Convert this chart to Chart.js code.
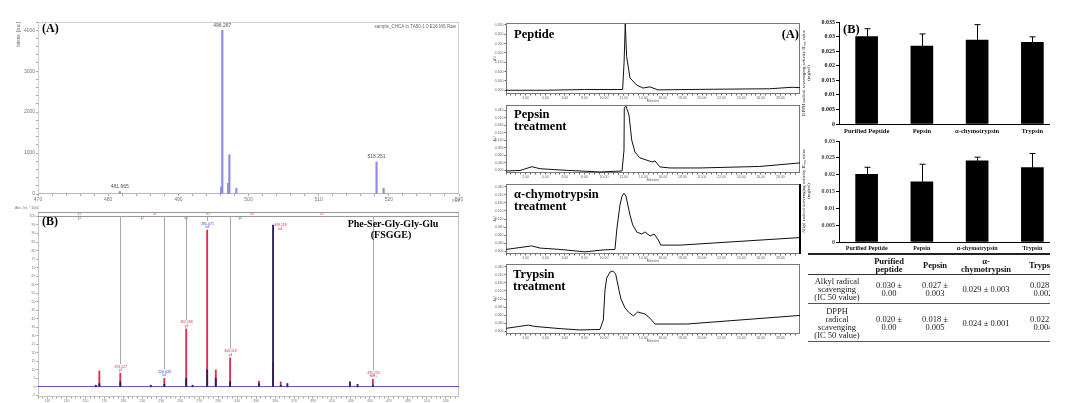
<!DOCTYPE html>
<html>
<head>
<meta charset="utf-8">
<script src="https://cdn.jsdelivr.net/npm/chart.js@4.4.1/dist/chart.umd.min.js"></script>
<style>
  html, body { margin: 0; padding: 0; background: #fff; }
  body { width: 1087px; height: 403px; position: relative; overflow: hidden; }
  canvas { position: absolute; }
  #right { position: absolute; left: 800px; top: 0; width: 250px; height: 403px; overflow: hidden; }
  #tbl { position: absolute; left: 8px; top: 253px; border-collapse: collapse; table-layout: fixed; width: 264px;
         font-family: "Liberation Serif", "Times New Roman", serif; font-size: 8.5px; line-height: 8px; color: #222; }
  #tbl td, #tbl th { padding: 0; text-align: center; vertical-align: middle; }
  #tbl th { font-weight: bold; color: #111; }
  #tbl tr.head th { border-top: 2px solid #222; border-bottom: 1px solid #333; height: 19px; }
  #tbl tr.r1 td { border-bottom: 1px solid #555; height: 28px; }
  #tbl tr.r2 td { border-bottom: 1px solid #555; height: 37px; }
  #thick { position: absolute; left: 799px; top: 184px; width: 2px; height: 70px; background: #000; }
</style>
</head>
<body>
<canvas id="ms1" width="470" height="210" style="left:0;top:0"></canvas>
<canvas id="ms2" width="470" height="203" style="left:0;top:200px"></canvas>
<canvas id="hp1" width="330" height="86" style="left:470px;top:18px"></canvas>
<canvas id="hp2" width="330" height="79" style="left:470px;top:104px"></canvas>
<canvas id="hp3" width="330" height="82" style="left:470px;top:182px"></canvas>
<canvas id="hp4" width="330" height="82" style="left:470px;top:262px"></canvas>
<div id="thick"></div>
<div id="right">
  <canvas id="bar1" width="287" height="130" style="left:0;top:10px"></canvas>
  <canvas id="bar2" width="287" height="118" style="left:0;top:135px"></canvas>
  <table id="tbl"></table>
</div>
<script>
// ---------- data ----------
// MALDI MS spectrum (A)
const ms1Mz  = [481.665, 496.1, 496.267, 497.1, 497.27, 498.27, 518.251, 519.25];
const ms1Int = [60, 170, 4000, 260, 960, 140, 780, 140];
const ms1LabelMz = [481.665, 496.267, 518.251];

// MS/MS spectrum (B)
const msmsMz   = [161, 164.7, 186.8, 219, 233.2, 256.3, 263, 278.4, 287.5, 302.6, 333, 347.9, 356, 363, 429, 437, 453.2];
const msmsRed  = [0, 9.4, 8, 0, 5, 34, 0, 92, 10, 17, 3.5, 14, 3, 0, 0, 0, 4.5];
const msmsDark = [1, 2, 3, 1, 1.5, 5, 1, 10, 5, 3, 2, 95, 1, 2, 3, 1.5, 1];
const fragMz   = [186.8, 233.2, 256.3, 278.4, 302.6, 347.9, 453.2];
const fragText = ['193.127', '220.039', '262.096', '285.071', '306.118', '349.118', '495.231'];
const fragIon  = ['y2', 'b2', 'y3', 'b3', 'y4', 'b4', 'MH+'];
const fragColor = ['#d83050', '#3048d8', '#d83050', '#3048d8', '#d83050', '#d83050', '#d83050'];
const bIonMz = [143.7, 223.7, 279.5, 325.8, 399.5];
const yIonMz = [143.7, 210, 256.3, 313.2];

// HPLC chromatograms (minutes, AU)
const pepT = [0, 4, 8, 11.9, 12.05, 12.17, 12.31, 12.65, 13.33, 13.97, 14.69, 15.5, 20, 26.9, 29.2, 30];
const pepA = [0, 0, 0.004, 0.004, 0.15, 0.355, 0.18, 0.066, 0.028, 0.012, 0.018, 0.002, 0.005, 0.008, 0.016, 0.014];
const pepsinT = [0, 1.43, 2.65, 3.16, 3.47, 5.51, 9.59, 11.84, 12.04, 12.07, 12.24, 12.55, 12.83, 13.16, 13.67, 14.29, 14.9, 15.2, 15.71, 16.73, 19.8, 25.9, 30];
const pepsinA = [-0.002, 0, 0.015, 0.01, 0.007, 0.002, -0.006, -0.002, 0.081, 0.248, 0.2555, 0.22, 0.121, 0.073, 0.05, 0.042, 0.034, 0.038, 0.014, 0.01, 0.01, 0.016, 0.03];
const chymoT = [0, 2.62, 3.47, 5.51, 8.06, 9.9, 11.12, 11.3, 11.63, 11.84, 12.04, 12.24, 12.65, 12.93, 13.34, 13.85, 14.18, 14.69, 15.13, 15.54, 15.79, 17.76, 30];
const chymoA = [0.007, 0.02, 0.012, 0.007, -0.002, 0.005, 0.007, 0.079, 0.172, 0.205, 0.215, 0.205, 0.135, 0.098, 0.072, 0.064, 0.072, 0.057, 0.064, 0.042, 0.023, 0.023, 0.051];
const trypT = [0, 2.28, 2.96, 5.51, 7.55, 9.59, 9.93, 10.1, 10.28, 10.61, 10.89, 11.19, 11.53, 11.73, 12.14, 12.48, 12.99, 13.44, 14.18, 14.69, 15.2, 18.44, 30];
const trypA = [0.011, 0.023, 0.018, 0.01, 0.005, 0.007, 0.042, 0.153, 0.198, 0.22, 0.224, 0.213, 0.153, 0.12, 0.087, 0.072, 0.057, 0.072, 0.064, 0.049, 0.027, 0.027, 0.059];

// IC50 bars (mg/ml)
const enzymes   = ['Purified Peptide', 'Pepsin', 'α-chymotrypsin', 'Trypsin'];
const dpphMean  = [0.030, 0.0267, 0.0288, 0.028];
const dpphErr   = [0.0027, 0.0042, 0.0053, 0.0019];
const alkylMean = [0.0201, 0.0179, 0.0241, 0.0221];
const alkylErr  = [0.0021, 0.0052, 0.0011, 0.0042];

// table
const tableHead = ['', 'Purified<br>peptide', 'Pepsin', 'α-<br>chymotrypsin', 'Trypsin'];
const tableRows = [
  ['Alkyl radical<br>scavenging<br>(IC 50 value)', '0.030 ±<br>0.00', '0.027 ±<br>0.003', '0.029 ± 0.003', '0.028 ±<br>0.002'],
  ['DPPH<br>radical<br>scavenging<br>(IC 50 value)', '0.020 ±<br>0.00', '0.018 ±<br>0.005', '0.024 ± 0.001', '0.022 ±<br>0.004']
];
const colWidths = [58, 46, 46, 56, 58];

// ---------- helpers ----------
const serif = '"Liberation Serif", "Times New Roman", serif';
const sans = '"Liberation Sans", Arial, sans-serif';
function range(a, b, s) { const r = []; for (let v = a; v <= b + 1e-9; v += s) r.push(+v.toFixed(6)); return r; }
function setTicks(vals) { return s => { s.ticks = vals.map(v => ({ value: v })); }; }
function fitW(w) { return s => { s.width = w; s.paddingTop = 0; s.paddingBottom = 0; s.paddingLeft = 0; s.paddingRight = 0; }; }
function fitH(h) { return s => { s.height = h; s.paddingTop = 0; s.paddingBottom = 0; s.paddingLeft = 0; s.paddingRight = 0; }; }
const isMult = (v, m) => Math.abs(v / m - Math.round(v / m)) < 1e-6;

Chart.defaults.animation = false;
Chart.defaults.responsive = false;
Chart.defaults.font.family = sans;
Chart.defaults.plugins.legend.display = false;
Chart.defaults.plugins.tooltip.enabled = false;

// free text per canvas (kept outside chart options)
const notesFor = {};
const notes = {
  id: 'notes',
  afterDraw(chart) {
    const { ctx, scales } = chart;
    (notesFor[chart.canvas.id] || []).forEach(n => {
      ctx.save();
      ctx.font = n.font;
      ctx.fillStyle = n.color || '#000';
      ctx.textAlign = n.align || 'left';
      ctx.textBaseline = 'middle';
      let px = n.tx, py = n.ty;
      if (n.at) {
        px = scales.x.getPixelForValue(n.at[0]);
        py = scales.y.getPixelForValue(n.at[1]) - (n.lift || 0);
      }
      ctx.translate(px, py);
      if (n.rot) ctx.rotate(n.rot);
      ctx.fillText(n.text, 0, 0);
      ctx.restore();
    });
  }
};
// box around plot area
const frame = {
  id: 'frame',
  beforeDatasetsDraw(chart, args, opts) {
    if (!opts.color) return;
    const { ctx, chartArea: a } = chart;
    ctx.save();
    ctx.strokeStyle = opts.color;
    ctx.lineWidth = 1;
    ctx.strokeRect(Math.round(a.left) + 0.5, Math.round(a.top) + 0.5, Math.round(a.width) - 1, Math.round(a.height) - 1);
    ctx.restore();
  }
};
// spectrum baseline
const zeroLine = {
  id: 'zeroLine',
  beforeDatasetsDraw(chart, args, opts) {
    if (!opts.color) return;
    const { ctx, chartArea: a, scales } = chart;
    const py = Math.round(scales.y.getPixelForValue(0)) - 0.5;
    ctx.save();
    ctx.strokeStyle = opts.color;
    ctx.lineWidth = 1;
    ctx.beginPath(); ctx.moveTo(a.left, py); ctx.lineTo(a.right, py); ctx.stroke();
    ctx.restore();
  }
};
// upper error bars
const errorsFor = {};
const errorBars = {
  id: 'errorBars',
  afterDatasetsDraw(chart) {
    const errs = errorsFor[chart.canvas.id];
    if (!errs) return;
    const { ctx, scales } = chart;
    const ds = chart.data.datasets[0];
    ctx.save();
    ctx.strokeStyle = '#000';
    ctx.lineWidth = 1;
    chart.getDatasetMeta(0).data.forEach((bar, i) => {
      const top = scales.y.getPixelForValue(ds.data[i] + errs[i]);
      const bx = Math.round(bar.x) + 0.5;
      ctx.beginPath();
      ctx.moveTo(bx, bar.y); ctx.lineTo(bx, top);
      ctx.moveTo(bx - 3, top); ctx.lineTo(bx + 3, top);
      ctx.stroke();
    });
    ctx.restore();
  }
};
Chart.register(notes, frame, zeroLine, errorBars);

// ---------- (A) MS spectrum ----------
notesFor.ms1 = [
  { text: '(A)', tx: 42, ty: 29, font: 'bold 12px ' + serif },
  { text: 'sample_CHCA in TA50-1 0:E16 MS Raw', tx: 456, ty: 27, align: 'right', font: '4.5px ' + sans, color: '#666' },
  { text: 'Intens. [a.u.]', tx: 19, ty: 22, align: 'right', rot: -Math.PI / 2, font: '4.5px ' + sans, color: '#666' },
  { text: 'm/z', tx: 452, ty: 201, font: 'italic 5px ' + sans, color: '#777' }
].concat(ms1LabelMz.map(m => ({ text: m.toFixed(3), at: [m, ms1Int[ms1Mz.indexOf(m)]], lift: 5, align: 'center', font: '5px ' + sans, color: '#555' })));

new Chart(document.getElementById('ms1'), {
  type: 'bar',
  data: { datasets: [{ data: ms1Mz.map((m, i) => ({ x: m, y: ms1Int[i] })), backgroundColor: '#8c8ce2', barThickness: 1.5 }] },
  options: {
    layout: { padding: { top: 22, right: 11 } },
    scales: {
      x: {
        type: 'linear', min: 470, max: 530, offset: false,
        afterBuildTicks: setTicks(range(470, 530, 2)), afterFit: fitH(16),
        grid: { drawOnChartArea: false, tickLength: 2, color: '#aaa', offset: false }, border: { display: false },
        ticks: { autoSkip: false, maxRotation: 0, padding: 1, color: '#777', font: { size: 5 }, callback: v => isMult(v, 10) ? v : '' }
      },
      y: {
        min: 0, max: 4200,
        afterBuildTicks: setTicks(range(0, 4200, 200)), afterFit: fitW(38),
        grid: { drawOnChartArea: false, tickLength: 2, color: '#aaa' }, border: { display: false },
        ticks: { autoSkip: false, padding: 1, color: '#777', font: { size: 5 }, callback: v => isMult(v, 1000) ? v : '' }
      }
    },
    plugins: { frame: { color: '#cfcfcf' }, zeroLine: { color: '#b4b4e8' } }
  }
});

// ---------- (B) MS/MS spectrum ----------
const msmsDecor = {
  id: 'msmsDecor',
  afterDatasetsDraw(chart) {
    const { ctx, chartArea: a, scales } = chart;
    const sx = scales.x, sy = scales.y;
    ctx.save();
    ctx.strokeStyle = '#999';
    ctx.lineWidth = 1;
    [Math.round(a.top) + 0.5, Math.round(a.top) + 4.5].forEach(yy => {
      ctx.beginPath(); ctx.moveTo(a.left, yy); ctx.lineTo(a.right, yy); ctx.stroke();
    });
    ctx.font = '3px ' + sans;
    ctx.textAlign = 'center';
    ctx.textBaseline = 'middle';
    ctx.fillStyle = '#e05070';
    bIonMz.forEach((m, i) => ctx.fillText('b' + (i + 1), sx.getPixelForValue(m), a.top + 2));
    ctx.fillStyle = '#4060e0';
    yIonMz.forEach((m, i) => ctx.fillText('y' + (i + 1), sx.getPixelForValue(m), a.top + 6));
    fragMz.forEach((m, i) => {
      const k = msmsMz.indexOf(m);
      const h = Math.max(msmsRed[k], msmsDark[k]);
      const px = Math.round(sx.getPixelForValue(m)) + 0.5;
      let py = sy.getPixelForValue(h) - 5;
      let lx = px;
      ctx.font = '3.5px ' + sans;
      if (py - 3 < a.top + 8) { lx = px + 7; py = sy.getPixelForValue(h) + 2; }
      else {
        ctx.strokeStyle = '#aaa';
        ctx.beginPath(); ctx.moveTo(px, a.top + 4.5); ctx.lineTo(px, py - 4); ctx.stroke();
      }
      ctx.fillStyle = fragColor[i];
      ctx.fillText(fragText[i], lx, py - 1.5);
      ctx.fillText(fragIon[i], lx, py + 2);
    });
    ctx.restore();
  }
};
notesFor.ms2 = [
  { text: '(B)', tx: 42, ty: 22, font: 'bold 12px ' + serif },
  { text: 'Phe-Ser-Gly-Gly-Glu', tx: 393, ty: 24, align: 'center', font: 'bold 10px ' + serif },
  { text: '(FSGGE)', tx: 391, ty: 35, align: 'center', font: 'bold 10px ' + serif },
  { text: 'Abs. Int. * 1000', tx: 27, ty: 8, align: 'center', font: '3.5px ' + sans, color: '#777' }
];
new Chart(document.getElementById('ms2'), {
  type: 'bar',
  data: {
    datasets: [
      { data: msmsMz.map((m, i) => ({ x: m, y: msmsRed[i] })), backgroundColor: '#d8304f', barThickness: 1.2, grouped: false, order: 2 },
      { data: msmsMz.map((m, i) => ({ x: m, y: msmsDark[i] })), backgroundColor: '#2a1d5c', barThickness: 1.2, grouped: false, order: 1 }
    ]
  },
  options: {
    layout: { padding: { top: 12, right: 11 } },
    scales: {
      x: {
        type: 'linear', min: 100, max: 544, offset: false,
        afterBuildTicks: setTicks(range(100, 540, 5)), afterFit: fitH(6),
        grid: { drawOnChartArea: false, tickLength: 1.5, color: '#999', offset: false }, border: { display: false },
        ticks: { autoSkip: false, maxRotation: 0, padding: 0.5, color: '#777', font: { size: 3.5 }, callback: v => isMult(v - 10, 20) ? v : '' }
      },
      y: {
        min: -5.9, max: 102.6,
        afterBuildTicks: setTicks(range(-5, 100, 5)), afterFit: fitW(38),
        grid: { drawOnChartArea: false, tickLength: 1.5, color: '#999' }, border: { display: false },
        ticks: { autoSkip: false, padding: 1, color: '#777', font: { size: 3.5 } }
      }
    },
    plugins: { frame: { color: '#c4c4c4' }, zeroLine: { color: '#5a5ad8' } }
  },
  plugins: [msmsDecor]
});

// ---------- (A) HPLC chromatograms ----------
function chromatogram(id, t, a, yMin, yMax, yStep, padTop, labels) {
  notesFor[id] = labels;
  new Chart(document.getElementById(id), {
    type: 'line',
    data: { datasets: [{ data: t.map((v, i) => ({ x: v, y: a[i] })), borderColor: '#111', borderWidth: 1, pointRadius: 0, tension: 0 }] },
    options: {
      layout: { padding: { top: padTop } },
      scales: {
        x: {
          type: 'linear', min: 0, max: 30,
          afterBuildTicks: setTicks(range(0, 30, 0.5)), afterFit: fitH(10),
          grid: { drawOnChartArea: false, tickLength: 1.5, color: '#666' }, border: { display: false },
          ticks: { autoSkip: false, maxRotation: 0, padding: 0.5, color: '#666', font: { size: 3.5 },
                   callback: v => (isMult(v, 2) && v > 0 && v < 30) ? v.toFixed(2) : '' },
          title: { display: true, text: 'Minutes', color: '#555', font: { size: 3.5 }, padding: { top: 0, bottom: 1 } }
        },
        y: {
          min: yMin, max: yMax,
          afterBuildTicks: setTicks(range(0, yMax, yStep)), afterFit: fitW(36),
          grid: { drawOnChartArea: false, tickLength: 1.5, color: '#666' }, border: { display: false },
          ticks: { autoSkip: false, padding: 1, color: '#666', font: { size: 3.5 }, callback: v => v.toFixed(3) },
          title: { display: true, text: 'AU', color: '#555', font: { size: 3.5 }, padding: { top: 23, bottom: 0 } }
        }
      },
      plugins: { frame: { color: '#777' } }
    }
  });
}
const tf = 'bold 12.5px ' + serif;
chromatogram('hp1', pepT, pepA, -0.02, 0.36, 0.05, 5, [
  { text: 'Peptide', tx: 44, ty: 17, font: tf },
  { text: '(A)', tx: 329, ty: 17, align: 'right', font: tf }
]);
chromatogram('hp2', pepsinT, pepsinA, -0.01, 0.26, 0.03, 1, [
  { text: 'Pepsin', tx: 44, ty: 11, font: tf },
  { text: 'treatment', tx: 44, ty: 23, font: tf }
]);
chromatogram('hp3', chymoT, chymoA, -0.01, 0.25, 0.03, 2, [
  { text: 'α-chymotrypsin', tx: 44, ty: 13, font: tf },
  { text: 'treatment', tx: 44, ty: 25, font: tf }
]);
chromatogram('hp4', trypT, trypA, -0.01, 0.25, 0.03, 2, [
  { text: 'Trypsin', tx: 43, ty: 13, font: tf },
  { text: 'treatment', tx: 43, ty: 25, font: tf }
]);

// ---------- (B) IC50 bar charts ----------
function barChart(id, means, errs, yMax, padTop, xH, tickColor, labelSize, titleLines, titleY, extra) {
  errorsFor[id] = errs;
  notesFor[id] = [
    { text: titleLines[0], tx: 4, ty: titleY, align: 'center', rot: -Math.PI / 2, font: '4.8px ' + serif, color: '#111' },
    { text: titleLines[1], tx: 8.5, ty: titleY, align: 'center', rot: -Math.PI / 2, font: '4.8px ' + serif, color: '#111' }
  ].concat(extra);
  new Chart(document.getElementById(id), {
    type: 'bar',
    data: { labels: enzymes, datasets: [{ data: means, backgroundColor: '#000', barThickness: 22 }] },
    options: {
      layout: { padding: { top: padTop, right: 27 } },
      scales: {
        x: {
          afterFit: fitH(xH),
          grid: { display: false, drawTicks: false, tickLength: 0 }, border: { color: '#000', width: 1 },
          ticks: { autoSkip: false, maxRotation: 0, padding: 3, color: '#111', font: { family: serif, weight: 'bold', size: labelSize } }
        },
        y: {
          min: 0, max: yMax,
          afterBuildTicks: setTicks(range(0, yMax, 0.005)), afterFit: fitW(39),
          grid: { drawOnChartArea: false, tickLength: 3, color: '#000' }, border: { color: '#000', width: 1 },
          ticks: { autoSkip: false, padding: 1, color: tickColor, font: { family: serif, weight: 'bold', size: 6 }, callback: v => +v.toFixed(3) }
        }
      }
    }
  });
}
barChart('bar1', dpphMean, dpphErr, 0.035, 12, 16, '#111', 6.5,
  ['DPPH radical scavenging activity IC₅₀ value', '(mg/ml)'], 63,
  [{ text: '(B)', tx: 43, ty: 20, font: 'bold 12.5px ' + serif }]);
barChart('bar2', alkylMean, alkylErr, 0.03, 6, 11, '#444', 6,
  ['Alkyl radical scavenging activity IC₅₀ value', '(mg/ml)'], 56, []);

// ---------- table ----------
const tbl = document.getElementById('tbl');
let html = '<colgroup>' + colWidths.map(w => '<col style="width:' + w + 'px">').join('') + '</colgroup>';
html += '<tr class="head">' + tableHead.map(h => '<th>' + h + '</th>').join('') + '</tr>';
tableRows.forEach((r, i) => { html += '<tr class="r' + (i + 1) + '">' + r.map(c => '<td>' + c + '</td>').join('') + '</tr>'; });
tbl.innerHTML = html;
</script>
</body>
</html>
